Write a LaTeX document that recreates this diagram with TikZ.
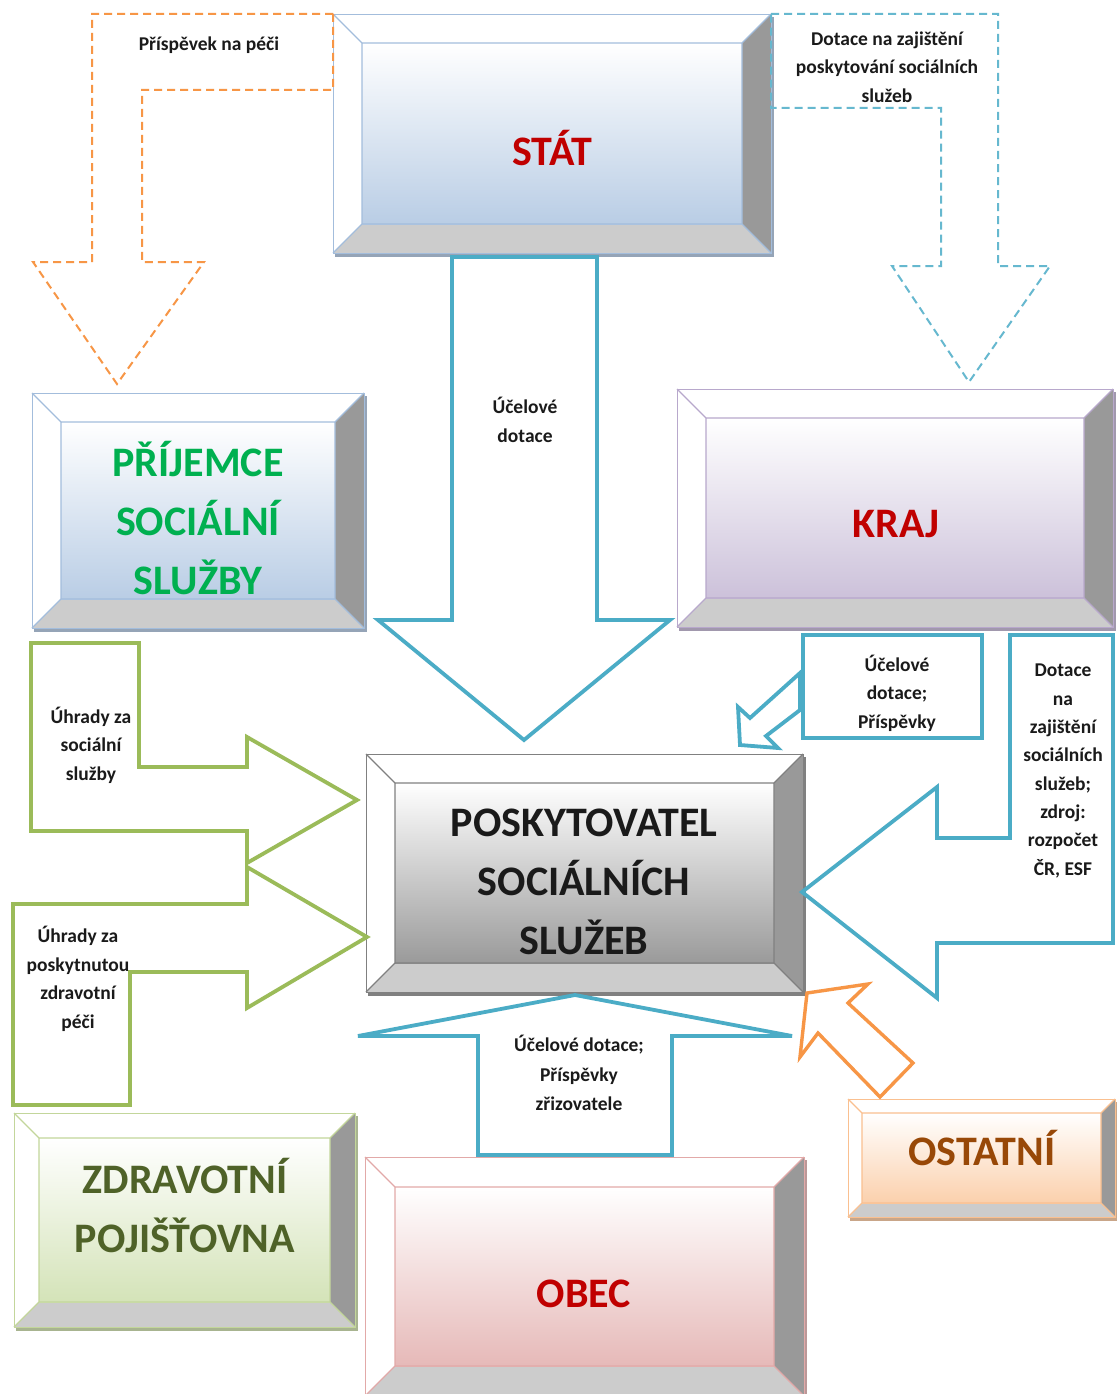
\documentclass[tikz,border=0pt]{standalone}
\usepackage{fontspec}
\setmainfont{Carlito}
\definecolor{ablue}{HTML}{4BACC6}
\definecolor{agreen}{HTML}{9BBB59}
\definecolor{aorange}{HTML}{F79646}
\definecolor{rightgray}{HTML}{999999}
\definecolor{botgray}{HTML}{CCCCCC}
\definecolor{bluebd}{HTML}{A3BDDC}
\definecolor{bluefl}{HTML}{B9CDE5}
\definecolor{purplebd}{HTML}{B8A8CC}
\definecolor{purplefl}{HTML}{CCC1DA}
\definecolor{graybd}{HTML}{808080}
\definecolor{grayfl}{HTML}{9A9A9A}
\definecolor{greenbd}{HTML}{C3D69B}
\definecolor{greenfl}{HTML}{D4E3B8}
\definecolor{redbd}{HTML}{E2A9A8}
\definecolor{redfl}{HTML}{E6B9B8}
\definecolor{orangebd}{HTML}{FAC090}
\definecolor{orangefl}{HTML}{FBD0AC}
\definecolor{txtred}{HTML}{C00000}
\definecolor{txtgreen}{HTML}{00B050}
\definecolor{txtolive}{HTML}{4F6228}
\definecolor{txtorange}{HTML}{984807}
\definecolor{txtdark}{HTML}{1A1A1A}
\newcommand\bevbox[8]{%
  \fill[#7!60!gray] ({#2+2},{#3+3}) rectangle ({#4+3},{#5+4});
  \fill[white] (#2,#3) rectangle (#4,#5);
  \fill[rightgray] (#4,#3) -- (#4,#5) -- ({#4-#6},{#5-#6}) -- ({#4-#6},{#3+#6}) -- cycle;
  \fill[botgray] (#2,#5) -- (#4,#5) -- ({#4-#6},{#5-#6}) -- ({#2+#6},{#5-#6}) -- cycle;
  \shade[top color=white, bottom color=#8] ({#2+#6},{#3+#6}) rectangle ({#4-#6},{#5-#6});
  \draw[#7, line width=1.3pt] ({#2+#6},{#3+#6}) rectangle ({#4-#6},{#5-#6})
    (#2,#3) -- ({#2+#6},{#3+#6}) (#4,#3) -- ({#4-#6},{#3+#6})
    (#2,#5) -- ({#2+#6},{#5-#6}) (#4,#5) -- ({#4-#6},{#5-#6});
  \node[draw=#7, line width=1.3pt, inner sep=0pt, minimum width={#4-#2},
        minimum height={#5-#3}, anchor=north west] (#1) at (#2,#3) {};
}
\tikzset{
  bigtxt/.style={font=\fontsize{42}{59}\selectfont\bfseries, align=center, inner sep=0pt},
  smalltxt/.style={font=\fontsize{19.5}{28.5}\selectfont\bfseries, align=center, inner sep=0pt, text=txtdark},
  blockarrow/.style={line width=3.8pt, line join=miter, miter limit=4},
  dasharrow/.style={line width=2pt, dash pattern=on 8pt off 5pt},
}
\begin{document}
\begin{tikzpicture}[x=1pt,y=-1pt]
\useasboundingbox (0,0) rectangle (1116,1394);
\fill[white] (0,0) rectangle (1116,1394);

% boxes
\bevbox{stat}{333}{14}{771}{253}{29}{bluebd}{bluefl}
\bevbox{prijemce}{32}{393}{364}{628}{29}{bluebd}{bluefl}
\bevbox{kraj}{677}{389}{1113}{627}{29}{purplebd}{purplefl}
\bevbox{posk}{366}{754}{803}{992}{29}{graybd}{grayfl}
\bevbox{zp}{14}{1113}{355}{1327}{25}{greenbd}{greenfl}
\bevbox{obec}{365}{1157}{804}{1396}{30}{redbd}{redfl}
\bevbox{ostatni}{848}{1099}{1115}{1217}{14}{orangebd}{orangefl}

% box texts
\node[bigtxt, text=txtred, anchor=base] (stat-t) at (552,165) {STÁT};
\node[bigtxt, text=txtgreen] (prijemce-t) at (198,518) {PŘÍJEMCE\\SOCIÁLNÍ\\SLUŽBY};
\node[bigtxt, text=txtred, anchor=base] (kraj-t) at (896,537) {KRAJ};
\node[bigtxt, text=txtdark] (posk-t) at (584,882) {POSKYTOVATEL\\SOCIÁLNÍCH\\SLUŽEB};
\node[bigtxt, text=txtolive] (zp-t) at (185,1205) {ZDRAVOTNÍ\\POJIŠŤOVNA};
\node[bigtxt, text=txtred, anchor=base] (obec-t) at (584,1307) {OBEC};
\node[bigtxt, text=txtorange, anchor=base] (ostatni-t) at (982,1165) {OSTATNÍ};

% dashed arrows from STAT
\draw[dasharrow, aorange] (333,14) -- (92,14) -- (92,262) -- (33,262) -- (117,384)
  -- (204,262) -- (142,262) -- (142,90) -- (333,90) -- cycle;
\draw[dasharrow, ablue!85] (771,14) -- (998,14) -- (998,266) -- (1050,266) -- (969,382)
  -- (892,266) -- (941,266) -- (941,108) -- (771,108) -- cycle;
\node[smalltxt] (l-prisp) at (209,45) {Příspěvek na péči};
\node[smalltxt] (l-dotkraj) at (887,67) {Dotace na zajištění\\poskytování sociálních\\služeb};

% big down arrow STAT -> POSK
\draw[blockarrow, ablue] (452,257) -- (452,620) -- (378,620) -- (524,740) -- (670,620)
  -- (597,620) -- (597,257) -- cycle;
\node[smalltxt] (l-ucel1) at (525,420) {Účelové\\dotace};

% KRAJ small callout
\draw[blockarrow, ablue] (800,673) -- (750,718) -- (738,707) -- (740,745) -- (778,748)
  -- (766,736) -- (800,710) -- cycle;
\node[smalltxt] (l-ucel2) at (897,693) {Účelové\\dotace;\\Příspěvky};
\draw[blockarrow, ablue] (803,635) rectangle (982,738);

% KRAJ big right arrow
\draw[blockarrow, ablue] (1010,635) -- (1113,635) -- (1113,943) -- (937,943) -- (937,998)
  -- (802,892) -- (937,787) -- (937,838) -- (1010,838) -- cycle;
\node[smalltxt, font=\fontsize{19.5}{28.3}\selectfont\bfseries] (l-dotesf) at (1063,771)
  {Dotace\\na\\zajištění\\sociálních\\služeb;\\zdroj:\\rozpočet\\ČR, ESF};

% green arrows
\draw[blockarrow, agreen] (31,643) -- (139,643) -- (139,767) -- (247,767) -- (247,737)
  -- (357,800) -- (247,863) -- (247,831) -- (31,831) -- cycle;
\draw[blockarrow, agreen] (13,904) -- (247,904) -- (247,867) -- (367,937) -- (247,1008)
  -- (247,972) -- (130,972) -- (130,1105) -- (13,1105) -- cycle;
\node[smalltxt] (l-uhr1) at (91,745) {Úhrady za\\sociální\\služby};
\node[smalltxt] (l-uhr2) at (78,979) {Úhrady za\\poskytnutou\\zdravotní\\péči};

% OBEC up arrow
\draw[blockarrow, ablue] (478,1155) -- (478,1036) -- (358,1036) -- (575,995) -- (792,1036)
  -- (672,1036) -- (672,1155) -- cycle;
\node[smalltxt, font=\fontsize{19.5}{29.5}\selectfont\bfseries] (l-ucel3) at (579,1073)
  {Účelové dotace;\\Příspěvky\\zřizovatele};

% OSTATNI arrow
\draw[blockarrow, aorange, line width=3.4pt] (880,1097) -- (913,1063) -- (848,1003) -- (868,984)
  -- (807,993) -- (800,1057) -- (818,1033) -- cycle;
\end{tikzpicture}
\end{document}
